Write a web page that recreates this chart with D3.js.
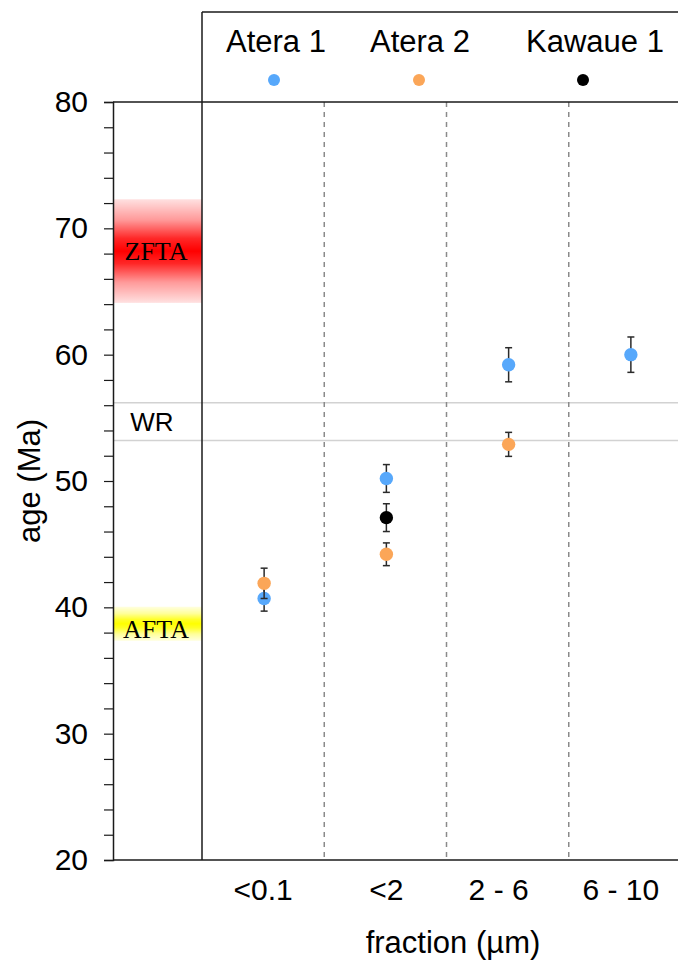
<!DOCTYPE html>
<html>
<head>
<meta charset="utf-8">
<script src="https://cdn.jsdelivr.net/npm/d3@7"></script>
<style>
  body { margin: 0; background: #fff; }
  text { font-family: "Liberation Sans", Arial, Helvetica, sans-serif; }
</style>
</head>
<body>
<svg id="chart" width="678" height="968"></svg>
<script>
// Grain-size fractions (x categories)
const fractions = ["<0.1", "<2", "2 - 6", "6 - 10"];

// Sample series: K-Ar ages (Ma) and 1-sigma errors per fraction
const seriesNames = ["Atera 1", "Atera 2", "Kawaue 1"];
const atera1Age = [40.7, 50.2, 59.2, 60.0];
const atera1Err = [1.0, 1.1, 1.35, 1.4];
const atera2Age = [41.9, 44.2, 52.9, null];
const atera2Err = [1.2, 0.9, 0.95, null];
const kawaue1Age = [null, 47.1, null, null];
const kawaue1Err = [null, 1.1, null, null];

// Thermochronology reference ages (Ma)
const bandLabels = ["ZFTA", "AFTA"];
const bandAges = [68.2, 38.7];
const bandErrs = [4.1, 1.35];

// Whole-rock age range (Ma)
const wrLabel = "WR";
const wrRange = [53.2, 56.2];

// Age axis
const ageDomain = [20, 80];
const ageMajorTicks = [20, 30, 40, 50, 60, 70, 80];

const seriesColors = ["#57a8fb", "#fba658", "#000000"];

// ---- layout ----
const W = 678, H = 968;
const axisX = 113, sepX = 202, plotTop = 102, plotBottom = 860, legendTop = 12;
const tickFont = 30, titleFont = 31;

const svg = d3.select("#chart");

const y = d3.scaleLinear().domain(ageDomain).range([plotBottom, plotTop]);
const x = d3.scaleBand().domain(fractions).range([sepX, sepX + 4 * 122.25]).padding(0);

const series = seriesNames.map((name, i) => ({
  name,
  color: seriesColors[i],
  values: [atera1Age, atera2Age, kawaue1Age][i].map((a, j) => ({
    fraction: fractions[j],
    age: a,
    err: [atera1Err, atera2Err, kawaue1Err][i][j]
  })).filter(d => d.age != null)
}));

// ---- gradients for FT bands ----
const defs = svg.append("defs");
function bandGradient(id, color) {
  const g = defs.append("linearGradient").attr("id", id)
    .attr("x1", 0).attr("y1", 0).attr("x2", 0).attr("y2", 1);
  const stops = [[0, 0.12], [0.2, 0.4], [0.38, 0.85], [0.5, 1], [0.62, 0.85], [0.8, 0.4], [1, 0.12]];
  stops.forEach(([o, a]) => g.append("stop").attr("offset", o).attr("stop-color", color).attr("stop-opacity", a));
}
bandGradient("grad-ZFTA", "#ff0000");
bandGradient("grad-AFTA", "#ffff00");

// FT bands in the left panel
const bandCenterX = 156;
bandLabels.forEach((lab, i) => {
  const top = y(bandAges[i] + bandErrs[i]);
  const bot = y(bandAges[i] - bandErrs[i]);
  svg.append("rect")
    .attr("x", axisX + 1).attr("y", top)
    .attr("width", sepX - axisX - 1).attr("height", bot - top)
    .attr("fill", `url(#grad-${lab})`);
  svg.append("text")
    .attr("x", bandCenterX)
    .attr("y", y(bandAges[i]))
    .attr("dy", lab === "AFTA" ? "0.55em" : "0.35em")
    .attr("text-anchor", "middle")
    .style("font-family", "'Liberation Serif', 'Times New Roman', serif")
    .style("font-size", "26px")
    .text(lab);
});

// WR range lines
svg.selectAll("line.wr").data(wrRange).join("line")
  .attr("class", "wr")
  .attr("x1", axisX).attr("x2", W)
  .attr("y1", d => y(d)).attr("y2", d => y(d))
  .attr("stroke", "#d2d2d2").attr("stroke-width", 1.5);
svg.append("text")
  .attr("x", 152)
  .attr("y", y(d3.mean(wrRange)))
  .attr("dy", "0.36em")
  .attr("text-anchor", "middle")
  .style("font-size", "26px")
  .text(wrLabel);

// Fraction separators (dashed)
svg.selectAll("line.sep").data(fractions.slice(1)).join("line")
  .attr("class", "sep")
  .attr("x1", d => x(d)).attr("x2", d => x(d))
  .attr("y1", plotTop).attr("y2", plotBottom)
  .attr("stroke", "#8a8a8a").attr("stroke-width", 1.5)
  .attr("stroke-dasharray", "5,5");

// Frame
const frame = svg.append("g").attr("stroke", "#1a1a1a").attr("stroke-width", 1.5).attr("fill", "none");
frame.append("line").attr("x1", axisX).attr("x2", W + 5).attr("y1", plotTop).attr("y2", plotTop);
frame.append("line").attr("x1", axisX).attr("x2", W + 5).attr("y1", plotBottom).attr("y2", plotBottom);
frame.append("line").attr("x1", sepX).attr("x2", sepX).attr("y1", legendTop).attr("y2", plotBottom);
frame.append("line").attr("x1", sepX).attr("x2", W + 5).attr("y1", legendTop).attr("y2", legendTop);

// Age axis
const yAxis = d3.axisLeft(y)
  .tickValues(d3.range(ageDomain[0], ageDomain[1] + 1, 2))
  .tickSize(9).tickPadding(16)
  .tickFormat(d => ageMajorTicks.includes(d) ? d : "");
const yg = svg.append("g").attr("transform", `translate(${axisX},0)`).call(yAxis);
yg.select(".domain").attr("stroke", "#1a1a1a").attr("stroke-width", 1.5);
yg.selectAll(".tick line").attr("stroke", "#1a1a1a").attr("stroke-width", 1.2);
yg.selectAll(".tick text").attr("fill", "#000").style("font-size", tickFont + "px")
  .style("font-family", "'Liberation Sans', Arial, sans-serif");

// Fraction axis labels
const labelShift = [0, 1, -9, -9];
const xAxis = d3.axisBottom(x).tickSize(0).tickPadding(19);
const xg = svg.append("g").attr("transform", `translate(0,${plotBottom})`).call(xAxis);
xg.select(".domain").remove();
xg.selectAll(".tick text").attr("fill", "#000").style("font-size", tickFont + "px")
  .attr("dx", (d, i) => labelShift[i])
  .style("font-family", "'Liberation Sans', Arial, sans-serif");

// Axis titles
svg.append("text")
  .attr("transform", `translate(40,${(plotTop + plotBottom) / 2}) rotate(-90)`)
  .attr("text-anchor", "middle")
  .style("font-size", titleFont + "px")
  .text("age (Ma)");
svg.append("text")
  .attr("x", 453).attr("y", 953)
  .attr("text-anchor", "middle")
  .style("font-size", titleFont + "px")
  .text("fraction (µm)");

// Legend
const legendDotX = [274, 419, 583];
const legendTextX = [276, 420, 595];
const lg = svg.append("g");
series.forEach((s, i) => {
  lg.append("text").attr("x", legendTextX[i]).attr("y", 52)
    .attr("text-anchor", "middle").style("font-size", titleFont + "px").text(s.name);
  lg.append("circle").attr("cx", legendDotX[i]).attr("cy", 80).attr("r", 6).attr("fill", s.color);
});

// Error bars and points
const cx = d => x(d.fraction) + x.bandwidth() / 2 + 1;
const marks = svg.append("g");
series.forEach(s => {
  const g = marks.append("g");
  const eb = g.selectAll("g.eb").data(s.values).join("g").attr("class", "eb")
    .attr("stroke", "#2a2a2a").attr("stroke-width", 1.5);
  eb.append("line").attr("x1", cx).attr("x2", cx)
    .attr("y1", d => y(d.age + d.err)).attr("y2", d => y(d.age - d.err));
  eb.append("line").attr("x1", d => cx(d) - 3.5).attr("x2", d => cx(d) + 3.5)
    .attr("y1", d => y(d.age + d.err)).attr("y2", d => y(d.age + d.err));
  eb.append("line").attr("x1", d => cx(d) - 3.5).attr("x2", d => cx(d) + 3.5)
    .attr("y1", d => y(d.age - d.err)).attr("y2", d => y(d.age - d.err));
  g.selectAll("circle").data(s.values).join("circle")
    .attr("cx", cx).attr("cy", d => y(d.age)).attr("r", 6.7).attr("fill", s.color);
});
</script>
</body>
</html>
